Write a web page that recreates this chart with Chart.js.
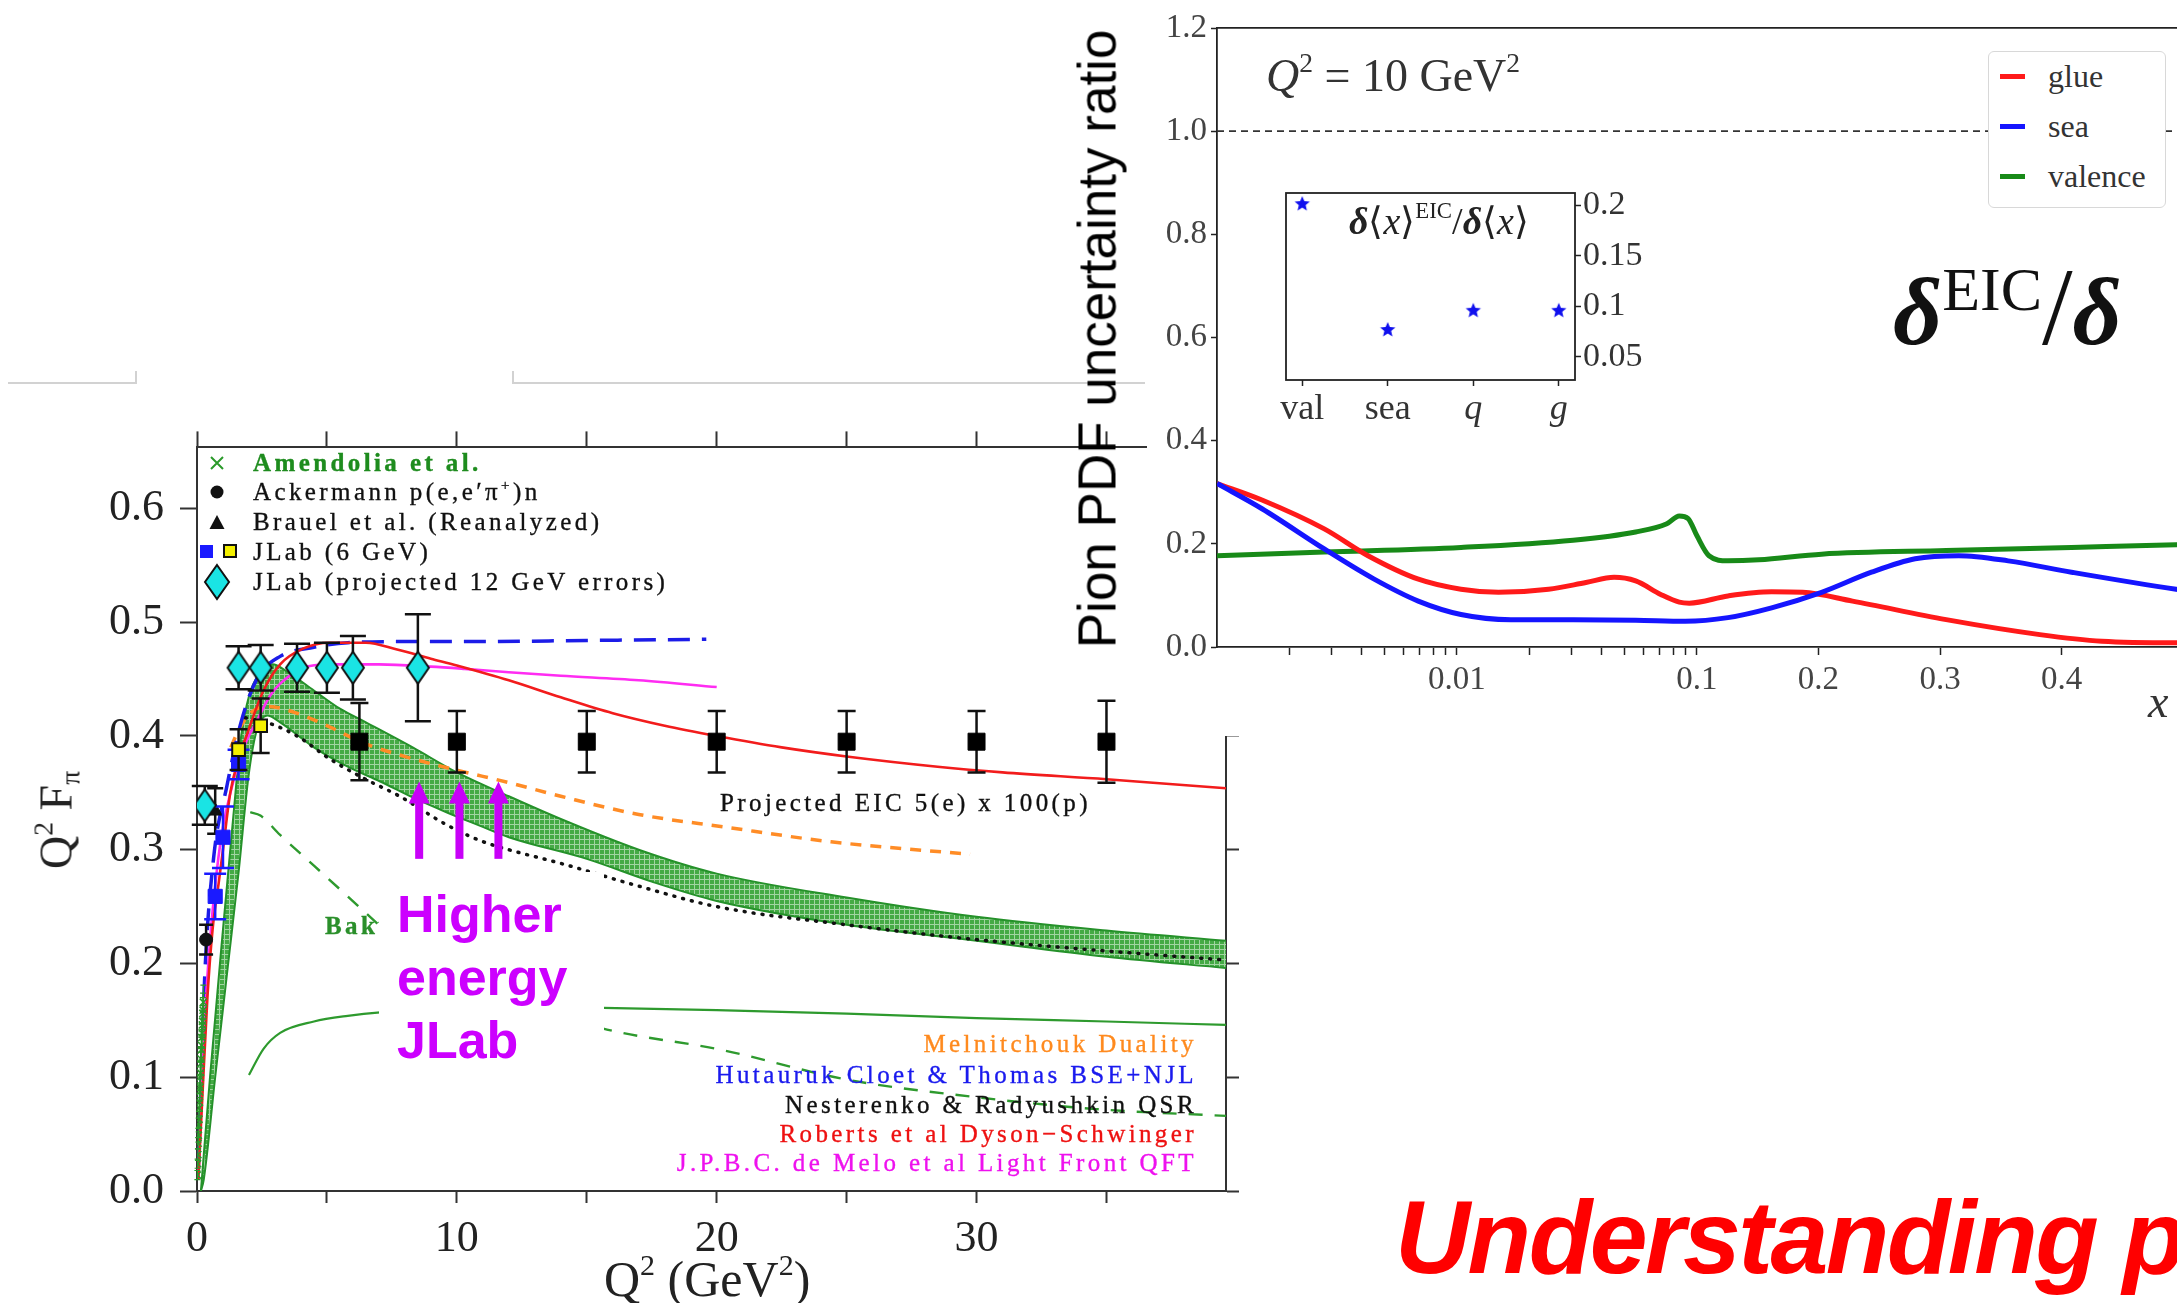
<!DOCTYPE html>
<html>
<head>
<meta charset="utf-8">
<script src="https://cdn.jsdelivr.net/npm/chart.js@4.4.1/dist/chart.umd.min.js"></script>
<style>
  html, body { margin: 0; padding: 0; background: #fff; overflow: hidden; }
  #page { position: relative; width: 2177px; height: 1303px; overflow: hidden; background: #fff; }
  canvas { position: absolute; }
  .t { position: absolute; white-space: nowrap; }
  .mono { font-family: 'Liberation Serif', serif; font-size: 25px; line-height: 28px; letter-spacing: 3.4px; -webkit-text-stroke: 0.35px; }
  .serif { font-family: 'Liberation Serif', serif; }
  .gl { position: absolute; background: #d2d2d2; }
  .rot { transform: translate(-50%, -50%) rotate(-90deg); }
  .up { position: relative; font-size: 60%; top: -0.7em; }
  .dn { position: relative; font-size: 60%; top: 0.3em; }
</style>
</head>
<body>
<div id="page">
  <!-- slide border remnants -->
  <div class="gl" style="left:8px;top:382px;width:128px;height:2px"></div>
  <div class="gl" style="left:135px;top:371px;width:2px;height:13px"></div>
  <div class="gl" style="left:512px;top:371px;width:2px;height:13px"></div>
  <div class="gl" style="left:512px;top:382px;width:633px;height:2px"></div>

  <canvas id="ff" width="1240" height="898" style="left:0;top:405px"></canvas>

  <!-- left chart legend -->
  <svg style="position:absolute;left:190px;top:445px" width="60" height="160">
    <path d="M21 12 L33 24 M33 12 L21 24" stroke="#2a9a2a" stroke-width="2"/>
    <circle cx="27" cy="47" r="6.5" fill="#111"/>
    <path d="M19.5 84 L27 70 L34.5 84 Z" fill="#111"/>
    <rect x="10" y="100" width="13" height="13" fill="#1a1aff"/>
    <rect x="34" y="100" width="12" height="12" fill="#f4f000" stroke="#111" stroke-width="2"/>
    <path d="M27 120 L39 137 L27 154 L15 137 Z" fill="#1ae4e4" stroke="#111" stroke-width="2"/>
  </svg>
  <div class="t mono" style="left:253px;top:449px;color:#1e8c1e;font-weight:bold">Amendolia et al.</div>
  <div class="t mono" style="left:253px;top:478px;color:#111">Ackermann p(e,e′π<span class="up">+</span>)n</div>
  <div class="t mono" style="left:253px;top:508px;color:#111">Brauel et al. (Reanalyzed)</div>
  <div class="t mono" style="left:253px;top:538px;color:#111">JLab (6 GeV)</div>
  <div class="t mono" style="left:253px;top:568px;color:#111">JLab (projected 12 GeV errors)</div>

  <div class="t mono" style="left:720px;top:789px;color:#111">Projected EIC 5(e) x 100(p)</div>
  <div class="t mono" style="left:325px;top:912px;color:#2a8f2a;font-weight:bold">Bakulev et al.</div>

  <div class="t mono" style="right:980px;top:1030px;color:#ff8a1e;text-align:right">Melnitchouk Duality</div>
  <div class="t mono" style="right:980px;top:1061px;color:#1a1aee;text-align:right">Hutauruk Cloet &amp; Thomas BSE+NJL</div>
  <div class="t mono" style="right:980px;top:1091px;color:#111;text-align:right">Nesterenko &amp; Radyushkin QSR</div>
  <div class="t mono" style="right:980px;top:1120px;color:#ee1111;text-align:right">Roberts et al Dyson−Schwinger</div>
  <div class="t mono" style="right:980px;top:1149px;color:#ee11ee;text-align:right">J.P.B.C. de Melo et al Light Front QFT</div>

  <div style="position:absolute;left:379px;top:872px;width:225px;height:205px;background:#fff"></div>
  <div class="t" style="left:397px;top:883px;font-family:'Liberation Sans',sans-serif;font-weight:bold;font-size:52px;line-height:63px;color:#cc00ff">Higher<br>energy<br>JLab</div>

  <div class="t serif rot" style="left:56px;top:820px;font-size:46px;color:#222">Q<span class="up">2</span> F<span class="dn">π</span></div>
  <div class="t serif" style="left:604px;top:1250px;font-size:50px;line-height:58px;color:#222">Q<span class="up">2</span> (GeV<span class="up">2</span>)</div>

  <!-- right chart -->
  <canvas id="pdf" width="1160" height="736" style="left:1147px;top:0;background:#fff"></canvas>
  <canvas id="inset" width="460" height="265" style="left:1200px;top:165px"></canvas>

  <div class="t serif" style="left:1266px;top:48px;font-size:46px;line-height:56px;color:#333"><i>Q</i><span class="up">2</span> = 10 GeV<span class="up">2</span></div>
  <div class="t serif" style="left:1349px;top:200px;font-size:38px;line-height:42px;color:#222"><i><b>δ</b></i>⟨<i>x</i>⟩<span class="up">EIC</span>/<i><b>δ</b></i>⟨<i>x</i>⟩</div>
  <div class="t serif" style="left:1893px;top:252px;font-size:96px;line-height:110px;color:#111"><i><b>δ</b></i><span style="position:relative;top:-34px;font-size:62px">EIC</span><span style="font-size:110px">/</span><i><b>δ</b></i></div>
  <div class="t serif" style="left:2148px;top:674px;font-size:46px;line-height:56px;color:#333"><i>x</i></div>

  <div style="position:absolute;left:1988px;top:51px;width:176px;height:155px;border:1.5px solid #d8d8d8;border-radius:6px;background:#fff"></div>
  <div style="position:absolute;left:2000px;top:74px;width:25px;height:5px;background:#ff1a1a"></div>
  <div style="position:absolute;left:2000px;top:124px;width:25px;height:5px;background:#1515ff"></div>
  <div style="position:absolute;left:2000px;top:174px;width:25px;height:5px;background:#188a18"></div>
  <div class="t serif" style="left:2048px;top:58px;font-size:32px;line-height:36px;color:#333">glue</div>
  <div class="t serif" style="left:2048px;top:108px;font-size:32px;line-height:36px;color:#333">sea</div>
  <div class="t serif" style="left:2048px;top:158px;font-size:32px;line-height:36px;color:#333">valence</div>

  <div class="t rot" style="left:1097px;top:339px;font-family:'Liberation Sans',sans-serif;font-size:53px;color:#000">Pion PDF uncertainty ratio</div>

  <div class="t" style="left:1395px;top:1185px;font-family:'Liberation Sans',sans-serif;font-weight:bold;font-style:italic;font-size:104px;line-height:104px;letter-spacing:-2.5px;color:#ff0000">Understanding pion</div>
</div>

<script>
// ---------- left chart: Q^2 F_pi ----------
const q2Ticks = [0, 5, 10, 15, 20, 25, 30, 35];
const q2Labelled = [0, 10, 20, 30];
const ffTicks = [0, 0.1, 0.2, 0.3, 0.4, 0.5, 0.6];

const amendoliaQ2 = [0.015, 0.025, 0.035, 0.045, 0.055, 0.065, 0.075, 0.085, 0.095, 0.105, 0.115, 0.125,
  0.135, 0.145, 0.155, 0.165, 0.175, 0.185, 0.195, 0.205, 0.215, 0.225, 0.235, 0.245];
const amendoliaVal = [0.014, 0.024, 0.032, 0.042, 0.049, 0.058, 0.063, 0.073, 0.078, 0.087, 0.091, 0.1,
  0.104, 0.112, 0.116, 0.124, 0.128, 0.135, 0.139, 0.146, 0.149, 0.156, 0.159, 0.166];
const amendoliaErr = [0.004, 0.004, 0.005, 0.005, 0.006, 0.006, 0.007, 0.007, 0.008, 0.008, 0.009, 0.009,
  0.01, 0.01, 0.011, 0.011, 0.012, 0.012, 0.013, 0.013, 0.014, 0.014, 0.015, 0.015];
const ackermannQ2 = [0.35], ackermannVal = [0.221], ackermannErr = [0.013];
const brauelQ2 = [0.7], brauelVal = [0.334], brauelErr = [0.02];
const jlab6BlueQ2 = [0.7, 1.0, 1.6], jlab6BlueVal = [0.259, 0.311, 0.375], jlab6BlueErr = [0.02, 0.027, 0.013];
const jlab6YellowQ2 = [1.6, 2.45], jlab6YellowVal = [0.388, 0.409], jlab6YellowErr = [0.018, 0.024];
const jlab12Q2 = [0.3, 1.6, 2.45, 3.85, 5.0, 6.0, 8.5];
const jlab12Val = [0.339, 0.46, 0.46, 0.46, 0.46, 0.46, 0.46];
const jlab12Err = [0.017, 0.019, 0.02, 0.021, 0.022, 0.028, 0.047];
const eicQ2 = [6.25, 10, 15, 20, 25, 30, 35];
const eicVal = [0.395, 0.395, 0.395, 0.395, 0.395, 0.395, 0.395];
const eicErr = [0.034, 0.027, 0.027, 0.027, 0.027, 0.027, 0.036];

const roberts = [[0.05, 0.01], [0.2, 0.08], [0.4, 0.17], [0.6, 0.23], [0.83, 0.27], [1.0, 0.3], [1.28, 0.35],
  [1.6, 0.38], [1.9, 0.4], [2.56, 0.44], [3.2, 0.463], [4.1, 0.477], [5.1, 0.482], [6.5, 0.482], [7.7, 0.476],
  [9, 0.468], [10, 0.462], [12, 0.449], [14, 0.434], [16, 0.42], [18, 0.409], [20, 0.4], [22.5, 0.39],
  [25, 0.382], [28.5, 0.373], [31, 0.368], [35, 0.362], [39.6, 0.354]];
const deMelo = [[0.05, 0.01], [0.3, 0.15], [0.5, 0.22], [0.77, 0.283], [1.0, 0.32], [1.4, 0.36], [1.8, 0.39],
  [2.3, 0.413], [2.8, 0.435], [3.2, 0.446], [4.1, 0.46], [5.1, 0.463], [7, 0.463], [9, 0.461], [10.3, 0.459],
  [12, 0.456], [14, 0.453], [17, 0.449], [20, 0.443]];
const hutauruk = [[0.05, 0.02], [0.3, 0.19], [0.64, 0.293], [1.15, 0.356], [1.67, 0.41], [2.3, 0.45],
  [3.2, 0.47], [4.5, 0.478], [5.8, 0.482], [8, 0.483], [11, 0.483], [15, 0.484], [19.6, 0.485]];
const melnitchouk = [[1.3, 0.39], [1.6, 0.405], [2.05, 0.42], [2.7, 0.426], [3.85, 0.42], [5.1, 0.408],
  [6.5, 0.393], [8.3, 0.38], [10, 0.37], [12, 0.359], [14, 0.347], [17, 0.331], [20.3, 0.32], [24.4, 0.307],
  [29.75, 0.296]];
const nesterenko = [[1.86, 0.416], [2.8, 0.411], [3.85, 0.4], [5.1, 0.38], [6.4, 0.363], [7.8, 0.347],
  [9.6, 0.322], [10.9, 0.308], [12, 0.3], [14, 0.288], [17, 0.268], [20, 0.25], [25, 0.234], [30, 0.221],
  [35, 0.211], [39.6, 0.203]];
const bandUpper = [[0.15, 0], [0.5, 0.1], [1.0, 0.23], [1.4, 0.33], [1.7, 0.4], [2.0, 0.435],
  [2.4, 0.455], [2.9, 0.463], [3.5, 0.456], [4.5, 0.44], [5.5, 0.424], [6.5, 0.412], [8.3, 0.39], [10, 0.368],
  [12, 0.347], [14, 0.327], [17, 0.3], [20, 0.279], [25, 0.258], [30, 0.241], [35, 0.229], [39.6, 0.22]];
const bandLower = [[0.15, 0], [0.26, 0.01], [0.7, 0.1], [1.2, 0.2], [1.6, 0.28], [1.99, 0.366], [2.3, 0.405],
  [2.7, 0.418], [3.2, 0.412], [4.5, 0.39], [5.8, 0.373], [7.05, 0.36], [8.3, 0.346], [9.6, 0.333],
  [10.9, 0.321], [12, 0.311], [15, 0.292], [17.5, 0.272], [20, 0.255], [25, 0.234], [30, 0.22], [35, 0.206],
  [39.6, 0.196]];
const greenDashed = [[2.05, 0.333], [2.44, 0.33], [3.2, 0.313], [4.5, 0.286], [5.8, 0.259], [6.9, 0.236],
  [8, 0.214], [10, 0.19], [12, 0.172], [14, 0.155], [15.6, 0.143], [20.2, 0.124], [25, 0.098], [29.8, 0.083],
  [34.6, 0.072], [39.6, 0.066]];
const greenSolid = [[2.0, 0.102], [2.56, 0.125], [3.2, 0.139], [4.5, 0.149], [5.8, 0.154], [7.05, 0.157],
  [10, 0.16], [13, 0.162], [15.6, 0.161], [20, 0.159], [25, 0.156], [30, 0.152], [35, 0.149], [39.6, 0.146]];

const arrowQ2 = [8.55, 10.1, 11.6];
const arrowFrom = 0.292, arrowTo = 0.36;

// ---------- right chart: uncertainty ratio ----------
const xTicks = [0.002, 0.003, 0.004, 0.005, 0.006, 0.007, 0.008, 0.009, 0.01, 0.02, 0.03, 0.04, 0.05,
  0.06, 0.07, 0.08, 0.09, 0.1, 0.2, 0.3, 0.4, 0.5];
const xLabelled = [0.01, 0.1, 0.2, 0.3, 0.4];
const ratioTicks = [0, 0.2, 0.4, 0.6, 0.8, 1.0, 1.2];
const glue = [[0.001, 0.317], [0.00154, 0.285], [0.0028, 0.229], [0.00426, 0.177], [0.00686, 0.132],
  [0.0104, 0.112], [0.0149, 0.106], [0.0241, 0.112], [0.0345, 0.125], [0.0452, 0.135], [0.0556, 0.128],
  [0.0707, 0.102], [0.0845, 0.087], [0.093, 0.085], [0.1256, 0.099], [0.1615, 0.107], [0.187, 0.106],
  [0.228, 0.089], [0.305, 0.053], [0.382, 0.024], [0.433, 0.011], [0.494, 0.008], [0.6, 0.008]];
const sea = [[0.001, 0.317], [0.00154, 0.268], [0.0028, 0.19], [0.0045, 0.132], [0.0069, 0.089],
  [0.0104, 0.063], [0.0168, 0.053], [0.0305, 0.053], [0.0556, 0.052], [0.0895, 0.05], [0.1256, 0.057],
  [0.1615, 0.076], [0.2026, 0.106], [0.2436, 0.145], [0.2795, 0.171], [0.3154, 0.177], [0.356, 0.167],
  [0.408, 0.145], [0.494, 0.112], [0.6, 0.08]];
const valence = [[0.001, 0.177], [0.0028, 0.184], [0.0104, 0.193], [0.0305, 0.207], [0.0556, 0.223],
  [0.075, 0.239], [0.0845, 0.254], [0.092, 0.249], [0.1, 0.216], [0.11, 0.177], [0.1256, 0.167],
  [0.151, 0.169], [0.2026, 0.18], [0.305, 0.187], [0.408, 0.193], [0.494, 0.198], [0.6, 0.203]];
const unityLine = [[0.001, 1], [0.6, 1]];

// ---------- inset ----------
const insetCats = ['val', 'sea', 'q', 'g'];
const insetVals = [0.201, 0.0765, 0.0955, 0.0955];
const insetTicks = [0.05, 0.1, 0.15, 0.2];

const xy = pairs => pairs.map(p => ({ x: p[0], y: p[1] }));
const pts = (xs, ys) => xs.map((x, i) => ({ x: x, y: ys[i] }));
const SERIF = "'Liberation Serif', serif";

Chart.defaults.font.family = SERIF;

const errorBars = {
  id: 'errorBars',
  beforeDatasetDraw(chart, args) {
    const ds = chart.data.datasets[args.index];
    if (!ds.errY) return;
    const ctx = chart.ctx, meta = args.meta, c = ds.capW;
    ctx.save();
    ctx.strokeStyle = ds.errColor;
    ctx.lineWidth = ds.errWidth;
    meta.data.forEach((pt, i) => {
      const v = ds.data[i].y;
      const top = meta.yScale.getPixelForValue(v + ds.errY[i]);
      const bot = meta.yScale.getPixelForValue(v - ds.errY[i]);
      ctx.beginPath();
      ctx.moveTo(pt.x, top); ctx.lineTo(pt.x, bot);
      ctx.moveTo(pt.x - c, top); ctx.lineTo(pt.x + c, top);
      ctx.moveTo(pt.x - c, bot); ctx.lineTo(pt.x + c, bot);
      ctx.stroke();
    });
    ctx.restore();
  }
};

const arrows = {
  id: 'arrows',
  afterDatasetsDraw(chart) {
    const { ctx, scales } = chart;
    ctx.save();
    ctx.fillStyle = ctx.strokeStyle = '#c800f8';
    arrowQ2.forEach(q => {
      const px = scales.x.getPixelForValue(q);
      const p0 = scales.y.getPixelForValue(arrowFrom), p1 = scales.y.getPixelForValue(arrowTo);
      ctx.lineWidth = 8;
      ctx.beginPath(); ctx.moveTo(px, p0); ctx.lineTo(px, p1 + 18); ctx.stroke();
      ctx.beginPath(); ctx.moveTo(px, p1); ctx.lineTo(px - 10.5, p1 + 22); ctx.lineTo(px + 10.5, p1 + 22);
      ctx.closePath(); ctx.fill();
    });
    ctx.restore();
  }
};

const frame = {
  id: 'frame',
  afterDraw(chart) {
    const a = chart.chartArea, ctx = chart.ctx;
    ctx.save();
    ctx.strokeStyle = '#222'; ctx.lineWidth = 1.8;
    ctx.strokeRect(a.left, a.top, a.right - a.left, a.bottom - a.top);
    ctx.restore();
  }
};

function diamond(w, h) {
  const c = document.createElement('canvas');
  c.width = w + 4; c.height = h + 4;
  const g = c.getContext('2d');
  g.beginPath();
  g.moveTo(c.width / 2, 2); g.lineTo(c.width - 2, c.height / 2);
  g.lineTo(c.width / 2, c.height - 2); g.lineTo(2, c.height / 2); g.closePath();
  g.fillStyle = '#1ae4e4'; g.fill();
  g.lineWidth = 2; g.strokeStyle = '#111'; g.stroke();
  return c;
}

function star(r) {
  const c = document.createElement('canvas');
  c.width = c.height = 2 * r + 2;
  const g = c.getContext('2d');
  g.beginPath();
  for (let i = 0; i < 10; i++) {
    const rr = i % 2 ? r * 0.45 : r, a = -Math.PI / 2 + i * Math.PI / 5;
    g.lineTo(r + 1 + rr * Math.cos(a), r + 1 + rr * Math.sin(a));
  }
  g.closePath(); g.fillStyle = '#1010ee'; g.fill();
  return c;
}

const ffCtx = document.getElementById('ff').getContext('2d');
const hatchTile = document.createElement('canvas');
hatchTile.width = hatchTile.height = 5;
const ht = hatchTile.getContext('2d');
ht.fillStyle = '#45aa45'; ht.fillRect(0, 0, 5, 5);
ht.fillStyle = 'rgba(255,255,255,0.5)'; ht.fillRect(0, 4, 5, 1); ht.fillRect(4, 0, 1, 4);
const hatch = ffCtx.createPattern(hatchTile, 'repeat');

const curve = (pairs, color, width, dash, extra) => Object.assign({
  data: xy(pairs), showLine: true, borderColor: color, borderWidth: width, borderDash: dash || [],
  pointRadius: 0, pointHoverRadius: 0, fill: false, cubicInterpolationMode: 'monotone'
}, extra || {});

const marks = (xs, ys, errs, style, extra) => Object.assign({
  data: pts(xs, ys), showLine: false, pointStyle: style, errY: errs,
  errColor: '#111', errWidth: 2.5, capW: 9
}, extra);

const ffSets = [
  curve(bandUpper, '#25912a', 2, [], { fill: '+1', backgroundColor: hatch }),
  curve(bandLower, '#25912a', 2),
  curve(greenSolid, '#2e9a2e', 2.2),
  curve(greenDashed, '#2e9a2e', 2.4, [14, 12]),
  curve(nesterenko, '#111', 3.5, [1, 8], { borderCapStyle: 'round' }),
  curve(melnitchouk, '#ff8c26', 3.5, [11, 9]),
  curve(hutauruk, '#1c1ce8', 3.5, [22, 12]),
  curve(deMelo, '#ff2cf2', 2.6),
  curve(roberts, '#f21c1c', 2.6),
  marks(amendoliaQ2, amendoliaVal, amendoliaErr, 'crossRot',
    { pointRadius: 5, borderColor: '#2a9a2a', borderWidth: 1.5, errColor: '#2a9a2a', errWidth: 1.2, capW: 3 }),
  marks(ackermannQ2, ackermannVal, ackermannErr, 'circle',
    { pointRadius: 6.5, backgroundColor: '#111', borderColor: '#111', capW: 7 }),
  marks(brauelQ2, brauelVal, brauelErr, 'triangle',
    { pointRadius: 8, backgroundColor: '#111', borderColor: '#111', capW: 8 }),
  marks(jlab6BlueQ2, jlab6BlueVal, jlab6BlueErr, 'rect',
    { pointRadius: 10, backgroundColor: '#1a1aff', borderColor: '#1a1aff', errColor: '#1a1aff', capW: 11 }),
  marks(jlab6YellowQ2, jlab6YellowVal, jlab6YellowErr, 'rect',
    { pointRadius: 9, backgroundColor: '#f4f000', borderColor: '#111', borderWidth: 2, capW: 9 }),
  marks(eicQ2, eicVal, eicErr, 'rect',
    { pointRadius: 12, backgroundColor: '#000', borderColor: '#000', capW: 9 }),
  marks(jlab12Q2, jlab12Val, jlab12Err, diamond(22, 32),
    { pointRadius: 12, capW: 13 })
];
ffSets.forEach((d, i) => { d.order = ffSets.length - i; });

const ffTickGrid = len => ({ display: true, drawOnChartArea: false, drawTicks: true, tickLength: len, tickColor: '#333', tickWidth: 2 });
const ffBorder = { display: true, color: '#333', width: 2 };

new Chart(ffCtx, {
  type: 'scatter',
  data: { datasets: ffSets },
  options: {
    responsive: false, animation: false, devicePixelRatio: 1, events: [],
    layout: { padding: 0 },
    plugins: { legend: { display: false }, tooltip: { enabled: false } },
    scales: {
      x: {
        type: 'linear', position: 'bottom', min: 0, max: 39.6,
        afterBuildTicks: a => { a.ticks = q2Ticks.map(v => ({ value: v })); },
        afterFit: a => { a.height = 112; },
        grid: ffTickGrid(12), border: ffBorder,
        ticks: { autoSkip: false, maxRotation: 0, padding: 10, color: '#222', font: { size: 44 },
          callback: v => q2Labelled.includes(v) ? String(v) : '' }
      },
      xt: {
        type: 'linear', position: 'top', min: 0, max: 39.6,
        afterBuildTicks: a => { a.ticks = q2Ticks.map(v => ({ value: v })); },
        afterFit: a => { a.height = 42; },
        grid: ffTickGrid(16), border: ffBorder, ticks: { display: false }
      },
      y: {
        type: 'linear', position: 'left', min: 0, max: 0.6537,
        afterBuildTicks: a => { a.ticks = ffTicks.map(v => ({ value: v })); },
        afterFit: a => { a.width = 197; },
        grid: ffTickGrid(17), border: ffBorder,
        ticks: { autoSkip: false, padding: 16, color: '#222', font: { size: 44 }, callback: v => v.toFixed(1) }
      },
      yr: {
        type: 'linear', position: 'right', min: 0, max: 0.6537,
        afterBuildTicks: a => { a.ticks = ffTicks.map(v => ({ value: v })); },
        afterFit: a => { a.width = 14; },
        grid: ffTickGrid(13), border: ffBorder, ticks: { display: false }
      }
    }
  },
  plugins: [errorBars, arrows]
});

// ---------- mixed log / linear x scale ----------
const LIN_PER_TENTH = 0.507;
const uOf = v => v <= 0.1 ? Math.log10(v) : -1 + (v - 0.1) / 0.1 * LIN_PER_TENTH;

class LogLinScale extends Chart.LinearScale {
  configure() {
    super.configure();
    this._u0 = uOf(this.min);
    this._u1 = uOf(this.max);
  }
  getPixelForValue(v) {
    return this.getPixelForDecimal((uOf(v) - this._u0) / (this._u1 - this._u0));
  }
  getValueForPixel(p) {
    const u = this._u0 + this.getDecimalForPixel(p) * (this._u1 - this._u0);
    return u <= -1 ? Math.pow(10, u) : 0.1 + (u + 1) / LIN_PER_TENTH * 0.1;
  }
}
LogLinScale.id = 'loglin';
LogLinScale.defaults = {};
Chart.register(LogLinScale);

const rLine = (pairs, color, width, dash) => ({
  data: xy(pairs), showLine: true, borderColor: color, borderWidth: width, borderDash: dash || [],
  pointRadius: 0, fill: false, cubicInterpolationMode: 'monotone'
});
const pdfSets = [
  rLine(unityLine, '#333', 1.6, [7, 5]),
  rLine(valence, '#188a18', 5),
  rLine(glue, '#ff1a1a', 5),
  rLine(sea, '#1515ff', 5)
];
pdfSets.forEach((d, i) => { d.order = pdfSets.length - i; });

new Chart(document.getElementById('pdf'), {
  type: 'scatter',
  data: { datasets: pdfSets },
  options: {
    responsive: false, animation: false, devicePixelRatio: 1, events: [],
    layout: { padding: { right: 2 } },
    plugins: { legend: { display: false }, tooltip: { enabled: false } },
    scales: {
      x: {
        type: 'loglin', position: 'bottom', min: 0.001, max: 0.6, bounds: 'data',
        afterBuildTicks: a => { a.ticks = xTicks.map(v => ({ value: v })); },
        afterFit: a => { a.height = 89; },
        grid: { drawOnChartArea: false, tickLength: 8, tickColor: '#222', tickWidth: 1.5 },
        border: { display: true, color: '#222', width: 1.8 },
        ticks: { autoSkip: false, maxRotation: 0, minRotation: 0, padding: 6, color: '#444', font: { size: 33 },
          callback: v => xLabelled.includes(v) ? String(v) : '' }
      },
      xt: {
        type: 'linear', position: 'top', min: 0, max: 1,
        afterFit: a => { a.height = 28; },
        grid: { display: false }, border: { display: true, color: '#222', width: 1.8 }, ticks: { display: false }
      },
      y: {
        type: 'linear', position: 'left', min: 0, max: 1.2,
        afterBuildTicks: a => { a.ticks = ratioTicks.map(v => ({ value: v })); },
        afterFit: a => { a.width = 70; },
        grid: { drawOnChartArea: false, tickLength: 6, tickColor: '#222', tickWidth: 1.5 },
        border: { display: true, color: '#222', width: 1.8 },
        ticks: { padding: 4, color: '#444', font: { size: 33 }, callback: v => v.toFixed(1) }
      }
    }
  }
});

new Chart(document.getElementById('inset'), {
  type: 'scatter',
  data: { datasets: [{ data: pts([0, 1, 2, 3], insetVals), pointStyle: star(8), pointRadius: 8 }] },
  options: {
    responsive: false, animation: false, devicePixelRatio: 1, events: [],
    layout: { padding: { left: 86, top: 28 } },
    plugins: { legend: { display: false }, tooltip: { enabled: false } },
    scales: {
      x: {
        type: 'linear', position: 'bottom', min: -0.19, max: 3.19,
        afterBuildTicks: a => { a.ticks = [0, 1, 2, 3].map(v => ({ value: v })); },
        afterFit: a => { a.height = 50; },
        grid: { drawOnChartArea: false, tickLength: 6, tickColor: '#222', tickWidth: 1.5 },
        border: { display: false },
        ticks: { autoSkip: false, maxRotation: 0, padding: 2, color: '#333',
          font: c => ({ size: 36, style: c.tick && c.tick.value >= 2 ? 'italic' : 'normal' }),
          callback: v => insetCats[v] }
      },
      y: {
        type: 'linear', position: 'right', min: 0.027, max: 0.212,
        afterBuildTicks: a => { a.ticks = insetTicks.map(v => ({ value: v })); },
        afterFit: a => { a.width = 85; },
        grid: { drawOnChartArea: false, tickLength: 6, tickColor: '#222', tickWidth: 1.5 },
        border: { display: false },
        ticks: { padding: 2, color: '#333', font: { size: 34 }, callback: v => String(v) }
      }
    }
  },
  plugins: [frame]
});
</script>
</body>
</html>
